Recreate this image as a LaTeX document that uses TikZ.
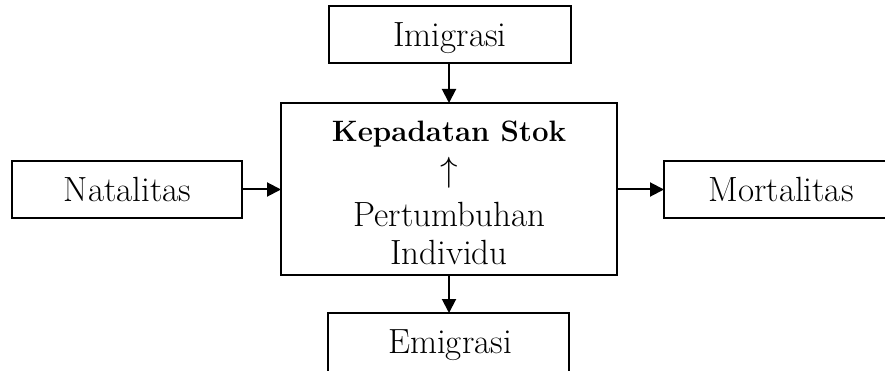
\RequirePackage{fix-cm}
\documentclass[tikz,border=0pt]{standalone}
\usepackage{fontspec}
\usetikzlibrary{arrows.meta}
\begin{document}
\begin{tikzpicture}[x=1pt,y=-1pt,
  boxshape/.style={draw=black,line width=2pt,rectangle,inner sep=0pt},
  lbl/.style={inner sep=0pt,anchor=base,font=\fontsize{35}{38}\selectfont},
  blbl/.style={inner sep=0pt,anchor=base,font=\fontsize{29.5}{38}\selectfont\bfseries},
  flow/.style={line width=2pt,-{Triangle[length=14pt,width=14pt]},shorten >=-1pt}]
\useasboundingbox (0,0) rectangle (885,371);
\clip (0,0) rectangle (885,371);
% boxes
\node[boxshape,minimum width=242pt,minimum height=57pt] (imi) at (450,34.5) {};
\node[boxshape,minimum width=336pt,minimum height=172pt] (cen) at (449,189) {};
\node[boxshape,minimum width=230pt,minimum height=57pt] (nat) at (127,189.5) {};
\node[boxshape,minimum width=234pt,minimum height=57pt] (mor) at (781,189.5) {};
\node[boxshape,minimum width=241pt,minimum height=60pt] (emi) at (448.5,343) {};
% labels
\node[lbl] (timi) at (450,47) {Imigrasi};
\node[lbl] (tnat) at (127.5,202) {Natalitas};
\node[lbl] (tmor) at (781,202) {Mortalitas};
\node[lbl] (temi) at (450,353) {Emigrasi};
\node[blbl] (tkep) at (449,142) {Kepadatan Stok};
\node[lbl] (tarr) at (449,182) {$\uparrow$};
\node[lbl] (tper) at (449.5,226) {Pertumbuhan};
\node[lbl] (tind) at (449,264) {Individu};
% connectors
\draw[flow] (imi.south -| cen.north) -- (cen.north);
\draw[flow] (nat.east) -- (nat.east -| cen.west);
\draw[flow] (cen.east |- mor.west) -- (mor.west);
\draw[flow] (cen.south) -- (cen.south |- emi.north);
\end{tikzpicture}
\end{document}
